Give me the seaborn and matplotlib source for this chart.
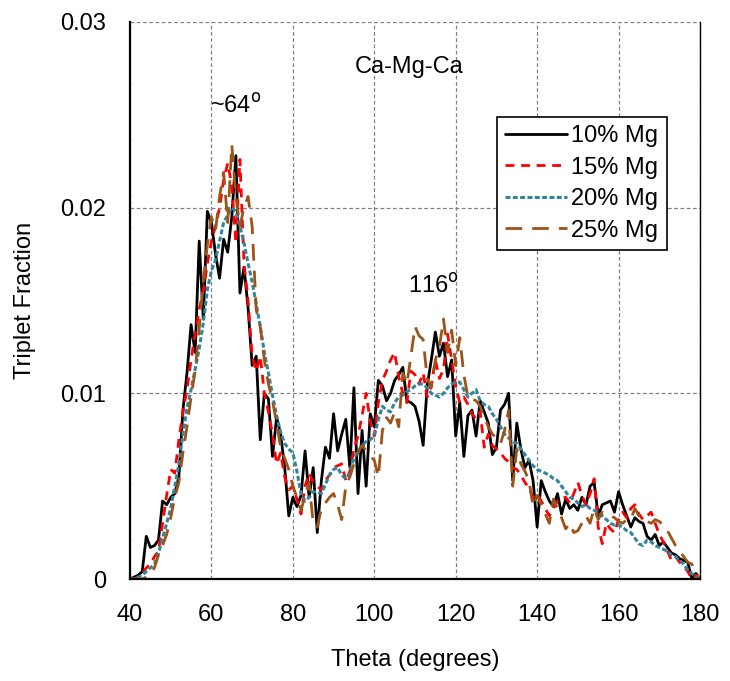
import numpy as np
import pandas as pd
import matplotlib
matplotlib.use("Agg")
import matplotlib.pyplot as plt
import seaborn as sns

theta = list(range(40, 181))

mg10 = [0, 0.0001, 0.0002, 0.0004, 0.0023, 0.0017, 0.0018, 0.0021, 0.0042, 0.0040,
        0.0044, 0.0046, 0.0055, 0.0091, 0.0111, 0.0137, 0.0122, 0.0182, 0.0140, 0.0198,
        0.0192, 0.0175, 0.0162, 0.0183, 0.0176, 0.0195, 0.0228, 0.0154, 0.0168, 0.0146,
        0.0115, 0.0120, 0.0075, 0.0100, 0.0097, 0.0066, 0.0087, 0.0078, 0.0060, 0.0034,
        0.0044, 0.0039, 0.0045, 0.0069, 0.0044, 0.0060, 0.0025, 0.0053, 0.0071, 0.0065,
        0.0089, 0.0069, 0.0078, 0.0086, 0.0060, 0.0103, 0.0046, 0.0080, 0.0050, 0.0089,
        0.0082, 0.0107, 0.0104, 0.0096, 0.0100, 0.0107, 0.0110, 0.0114, 0.0096, 0.0095,
        0.0093, 0.0085, 0.0072, 0.0104, 0.0118, 0.0133, 0.0120, 0.0127, 0.0109, 0.0118,
        0.0077, 0.0095, 0.0066, 0.0088, 0.0091, 0.0077, 0.0096, 0.0090, 0.0084, 0.0067,
        0.0071, 0.0091, 0.0094, 0.0100, 0.0053, 0.0084, 0.0070, 0.0060, 0.0064, 0.0053,
        0.0028, 0.0053, 0.0047, 0.0042, 0.0039, 0.0046, 0.0035, 0.0043, 0.0038, 0.0040,
        0.0037, 0.0044, 0.0040, 0.0050, 0.0052, 0.0034, 0.0040, 0.0041, 0.0042, 0.0036,
        0.0047, 0.0040, 0.0034, 0.0028, 0.0033, 0.0031, 0.0030, 0.0023, 0.0021, 0.0024,
        0.0018, 0.0020, 0.0017, 0.0014, 0.0013, 0.0011, 0.0010, 0.0009, 0.0000, 0.0003,
        0.0000]

mg15 = [0, 0, 0.0001, 0.0003, 0.0006, 0.0008, 0.0012, 0.0015, 0.0030, 0.0045,
        0.0059, 0.0057, 0.0075, 0.0090, 0.0102, 0.0118, 0.0132, 0.0145, 0.0155, 0.0170,
        0.0182, 0.0190, 0.0200, 0.0215, 0.0224, 0.0212, 0.0181, 0.0226, 0.0170, 0.0150,
        0.0120, 0.0112, 0.0120, 0.0100, 0.0090, 0.0078, 0.0062, 0.0068, 0.0055, 0.0048,
        0.0050, 0.0043, 0.0035, 0.0050, 0.0057, 0.0052, 0.0050, 0.0048, 0.0053, 0.0056,
        0.0060, 0.0061, 0.0062, 0.0053, 0.0058, 0.0070, 0.0077, 0.0088, 0.0100, 0.0085,
        0.0077, 0.0095, 0.0107, 0.0112, 0.0118, 0.0122, 0.0109, 0.0100, 0.0095, 0.0112,
        0.0110, 0.0105, 0.0111, 0.0098, 0.0104, 0.0118, 0.0108, 0.0113, 0.0132, 0.0118,
        0.0104, 0.0095, 0.0098, 0.0094, 0.0089, 0.0086, 0.0090, 0.0071, 0.0078, 0.0072,
        0.0070, 0.0068, 0.0065, 0.0063, 0.0060, 0.0059, 0.0056, 0.0052, 0.0049, 0.0044,
        0.0046, 0.0042, 0.0038, 0.0034, 0.0038, 0.0042, 0.0044, 0.0044, 0.0041, 0.0046,
        0.0052, 0.0045, 0.0040, 0.0046, 0.0054, 0.0028, 0.0019, 0.0030, 0.0027, 0.0025,
        0.0032, 0.0036, 0.0033, 0.0038, 0.0040, 0.0035, 0.0032, 0.0034, 0.0036, 0.0030,
        0.0024, 0.0020, 0.0015, 0.0010, 0.0012, 0.0009, 0.0007, 0.0004, 0.0000, 0.0002,
        0.0000]

mg20 = [0, 0, 0.0001, 0.0002, 0.0004, 0.0006, 0.0008, 0.0014, 0.0022, 0.0030,
        0.0038, 0.0050, 0.0062, 0.0078, 0.0092, 0.0102, 0.0113, 0.0124, 0.0138, 0.0156,
        0.0166, 0.0172, 0.0182, 0.0192, 0.0196, 0.0200, 0.0198, 0.0190, 0.0181, 0.0170,
        0.0160, 0.0148, 0.0136, 0.0122, 0.0111, 0.0099, 0.0088, 0.0079, 0.0073, 0.0070,
        0.0068, 0.0058, 0.0046, 0.0042, 0.0044, 0.0047, 0.0047, 0.0046, 0.0051, 0.0056,
        0.0059, 0.0060, 0.0056, 0.0054, 0.0057, 0.0065, 0.0069, 0.0072, 0.0074, 0.0075,
        0.0077, 0.0086, 0.0093, 0.0091, 0.0090, 0.0095, 0.0098, 0.0099, 0.0101, 0.0102,
        0.0104, 0.0105, 0.0105, 0.0103, 0.0100, 0.0099, 0.0098, 0.0100, 0.0103, 0.0105,
        0.0106, 0.0106, 0.0102, 0.0098, 0.0100, 0.0102, 0.0096, 0.0094, 0.0093, 0.0089,
        0.0086, 0.0082, 0.0078, 0.0076, 0.0074, 0.0073, 0.0070, 0.0067, 0.0064, 0.0061,
        0.0059, 0.0058, 0.0057, 0.0056, 0.0054, 0.0053, 0.0050, 0.0047, 0.0044, 0.0043,
        0.0041, 0.0039, 0.0040, 0.0038, 0.0037, 0.0036, 0.0034, 0.0032, 0.0030, 0.0029,
        0.0029, 0.0028, 0.0026, 0.0025, 0.0022, 0.0019, 0.0018, 0.0021, 0.0020, 0.0018,
        0.0017, 0.0016, 0.0015, 0.0013, 0.0012, 0.0010, 0.0008, 0.0005, 0.0003, 0.0001,
        0.0000]

mg25 = [0, 0, 0, 0, 0.0001, 0.0003, 0.0006, 0.0013, 0.0018, 0.0024,
        0.0033, 0.0044, 0.0052, 0.0068, 0.0082, 0.0098, 0.0112, 0.0135, 0.0160, 0.0180,
        0.0195, 0.0188, 0.0206, 0.0219, 0.0192, 0.0234, 0.0206, 0.0190, 0.0200, 0.0206,
        0.0190, 0.0145, 0.0136, 0.0118, 0.0105, 0.0096, 0.0084, 0.0071, 0.0065, 0.0059,
        0.0050, 0.0044, 0.0037, 0.0045, 0.0052, 0.0030, 0.0028, 0.0038, 0.0041, 0.0044,
        0.0046, 0.0040, 0.0032, 0.0050, 0.0055, 0.0062, 0.0068, 0.0072, 0.0069, 0.0066,
        0.0064, 0.0055, 0.0080, 0.0087, 0.0084, 0.0090, 0.0082, 0.0111, 0.0105, 0.0120,
        0.0136, 0.0131, 0.0129, 0.0108, 0.0103, 0.0118, 0.0125, 0.0140, 0.0122, 0.0134,
        0.0115, 0.0130, 0.0110, 0.0098, 0.0097, 0.0096, 0.0093, 0.0087, 0.0082, 0.0078,
        0.0076, 0.0073, 0.0080, 0.0091, 0.0050, 0.0070, 0.0062, 0.0058, 0.0053, 0.0039,
        0.0045, 0.0040, 0.0035, 0.0030, 0.0043, 0.0038, 0.0033, 0.0027, 0.0030, 0.0025,
        0.0026, 0.0030, 0.0034, 0.0030, 0.0038, 0.0032, 0.0036, 0.0035, 0.0034, 0.0033,
        0.0031, 0.0030, 0.0032, 0.0032, 0.0038, 0.0034, 0.0032, 0.0031, 0.0030, 0.0032,
        0.0031, 0.0029, 0.0026, 0.0022, 0.0018, 0.0015, 0.0012, 0.0009, 0.0008, 0.0003,
        0.0000]

labels = ["10% Mg", "15% Mg", "20% Mg", "25% Mg"]
colors = ["#000000", "#FF0000", "#31859C", "#9C5418"]
dash_styles = ["-", (0, (3.2, 2.4)), (0, (1.6, 0.8)), (0, (6.0, 3.6))]
widths = [2.0, 2.0, 2.2, 2.0]

df = pd.DataFrame({"theta": theta, labels[0]: mg10, labels[1]: mg15,
                   labels[2]: mg20, labels[3]: mg25})
long = df.melt(id_vars="theta", var_name="series", value_name="frac")

sns.set_style("white")
plt.rcParams["font.family"] = ["Liberation Sans", "DejaVu Sans"]
plt.rcParams["text.color"] = "black"
plt.rcParams["axes.labelcolor"] = "black"
plt.rcParams["xtick.color"] = "black"
plt.rcParams["ytick.color"] = "black"

FS = 17

fig = plt.figure(figsize=(7.30, 6.81), dpi=100)
ax = fig.add_axes([130 / 730, 1 - 579 / 681, 570 / 730, 557 / 681])

for lab, col, ls, lw in zip(labels, colors, dash_styles, widths):
    sub = long[long["series"] == lab]
    sns.lineplot(data=sub, x="theta", y="frac", ax=ax, color=col,
                 linestyle=ls, linewidth=lw, label=lab, estimator=None)

ax.set_xlim(40, 180)
ax.set_ylim(0, 0.03)
ax.set_xticks(range(40, 181, 20))
ax.set_yticks([0, 0.01, 0.02, 0.03])
ax.set_yticklabels(["0", "0.01", "0.02", "0.03"])
ax.tick_params(axis="both", labelsize=FS, direction="out", length=6, width=1.2,
               colors="black")
ax.tick_params(axis="y", pad=11)
ax.tick_params(axis="x", pad=12)
ax.grid(True, linestyle=(0, (3, 2)), color="#808080", linewidth=0.9)
ax.set_axisbelow(True)

for s in ["left", "bottom"]:
    ax.spines[s].set_visible(True)
    ax.spines[s].set_color("black")
    ax.spines[s].set_linewidth(1.6)
ax.spines["right"].set_visible(True)
ax.spines["right"].set_color("black")
ax.spines["right"].set_linewidth(1.0)
ax.spines["top"].set_visible(False)

ax.set_xlabel("Theta (degrees)", fontsize=FS, color="black")
ax.set_ylabel("Triplet Fraction", fontsize=FS, color="black")
ax.xaxis.set_label_coords(0.5, -0.125)
ax.yaxis.set_label_coords(-0.165, 0.5)

ax.text(108.5, 0.0276, "Ca-Mg-Ca", fontsize=FS, ha="center", va="center", color="black")
ax.text(66, 0.0255, "~64$^{\\rm o}$", fontsize=FS, ha="center", va="center", color="black")
ax.text(114.5, 0.0158, "116$^{\\rm o}$", fontsize=FS, ha="center", va="center", color="black")

leg = ax.legend(loc="upper left", bbox_to_anchor=(367 / 570, 1 - 95 / 557),
                fontsize=FS, frameon=True, fancybox=False, handlelength=2.6,
                handletextpad=0.2, labelspacing=0.4, borderpad=0.35,
                borderaxespad=0)
leg.get_frame().set_edgecolor("black")
leg.get_frame().set_linewidth(1.2)
leg.get_frame().set_alpha(1)
for t in leg.get_texts():
    t.set_color("black")

fig.savefig("out.png", dpi=100)
